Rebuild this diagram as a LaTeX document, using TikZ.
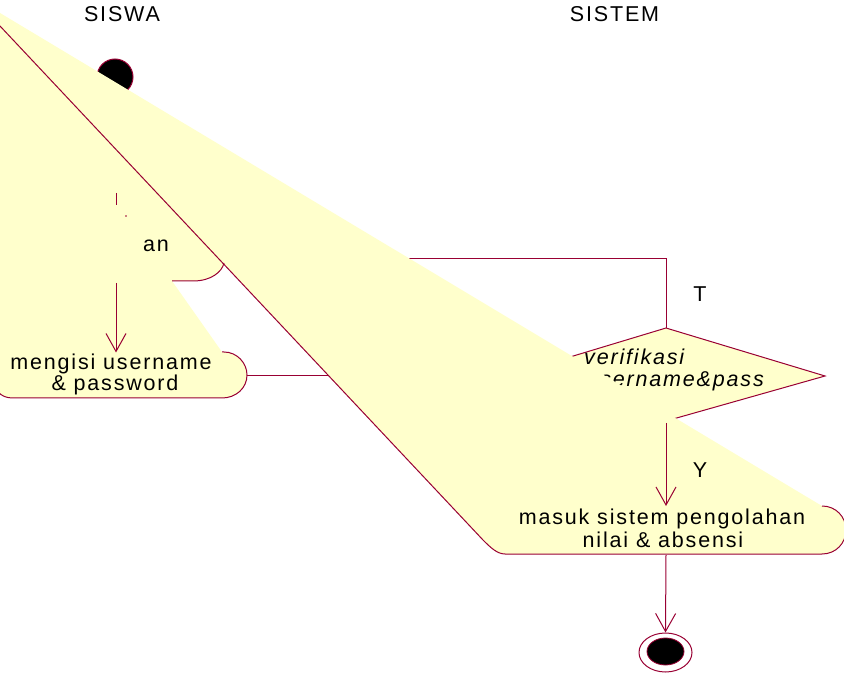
\documentclass[tikz,border=0pt]{standalone}
\usepackage{fontspec}
\setmainfont{Liberation Sans}
\newfontfamily\rosefont{Liberation Sans}[LetterSpace=8.5]
\usetikzlibrary{arrows.meta,shapes.geometric}
\definecolor{roseline}{RGB}{153,0,51}
\definecolor{rosefill}{RGB}{255,255,204}
\begin{document}
\begin{tikzpicture}[x=1pt,y=-1pt,
  txt/.style={inner sep=0pt, font=\rosefont\fontsize{21.5}{24}\selectfont, text=black},
  itxt/.style={inner sep=0pt, font=\rosefont\itshape\fontsize{21.5}{24}\selectfont, text=black},
  line/.style={draw=roseline, line width=1pt},
  flow/.style={line, -{Straight Barb[length=18pt,width=20pt]}}]
\useasboundingbox (0,0) rectangle (844,676);
\clip (0,0) rectangle (844,676);
% lane titles
\node[txt, anchor=base] (siswa) at (122,22) {SISWA};
\node[txt, anchor=base] (sistem) at (614.5,22) {SISTEM};
% decision
\coordinate (dtop) at (666,328);
\coordinate (dright) at (825,376);
\coordinate (dbot) at (666,421);
\coordinate (dleft) at (507,376);
\draw[line, fill=rosefill] (dtop) -- (dright) -- (dbot) -- (dleft) -- cycle;
\node[itxt, anchor=base west] (v1) at (584,365) {verifikasi};
\node[itxt, anchor=base east] (v2) at (764,387) {username\&pass};
% T branch back
\coordinate (tcorner) at (666,258.5);
\coordinate (tend) at (224,258.5);
\draw[line] (dtop) -- (tcorner) -- (tend);
% connector mengisi -> decision
\coordinate (mright) at (247,376);
\draw[line] (mright) -- (dleft);
% start
\node[circle, fill=black, draw=roseline, line width=1pt, minimum size=36pt, inner sep=0pt] (start) at (115,77) {};
% overlapping fills
\fill[rosefill] (-5,10) -- (822,506) .. controls (836,506) and (846,517) .. (846,530)
  .. controls (846,543) and (836,554) .. (822,554) -- (505,554)
  .. controls (497,554) and (490,547) .. (483,540) -- (224,264)
  .. controls (222,272) and (211,281) .. (193,281) -- (172,281) -- (222,352) -- (224,352)
  .. controls (237,352) and (247,363) .. (247,375) .. controls (247,388) and (236,398) .. (222,398)
  -- (13,398) .. controls (6,398) and (2,396) .. (-5,390) -- cycle;
% outlines
\draw[line] (-5,20.7) -- (483,540) .. controls (490,547) and (497,554) .. (505,554) -- (822,554)
  .. controls (836,554) and (846,543) .. (846,530) .. controls (846,517) and (836,506) .. (822,506);
\draw[line] (172,281) -- (193,281) .. controls (211,281) and (222,272) .. (224,263);
\draw[line] (222,352) -- (224,352) .. controls (237,352) and (247,363) .. (247,375)
  .. controls (247,388) and (236,398) .. (222,398) -- (13,398) .. controls (6,398) and (2,396) .. (-2,392);
% fragments of start arrow
\coordinate (s1) at (116,193);
\coordinate (s2) at (116,205);
\draw[line] (s1) -- (s2);
\fill[roseline] (126,216) circle (0.9);
% texts
\node[txt, anchor=base west] (an) at (143,252) {an};
\node[txt, anchor=base] (mg1) at (111,370) {mengisi username};
\node[txt, anchor=base] (mg2) at (115,391) {\& password};
\node[txt, anchor=base] (ms1) at (662,524) {masuk sistem pengolahan};
\node[txt, anchor=base] (ms2) at (663,547) {nilai \& absensi};
\node[txt, anchor=base] (tl) at (700,302) {T};
\node[txt, anchor=base] (yl) at (700,477) {Y};
% arrows
\coordinate (c1) at (116,283);
\coordinate (mtop) at (116,352.5);
\draw[flow] (c1) -- (mtop);
\coordinate (dout) at (666,423);
\coordinate (mstop) at (666,506);
\draw[flow] (dout) -- (mstop);
% end
\node[ellipse, draw=roseline, line width=1pt, fill=white, minimum width=53pt, minimum height=39pt, inner sep=0pt] (endo) at (665.5,652.5) {};
\node[ellipse, draw=roseline, line width=0.8pt, fill=black, minimum width=37pt, minimum height=27pt, inner sep=0pt] (endi) at (665.5,651.5) {};
\coordinate (msbot) at (666,555);
\draw[flow] (msbot) -- (endo.north);
\end{tikzpicture}
\end{document}
